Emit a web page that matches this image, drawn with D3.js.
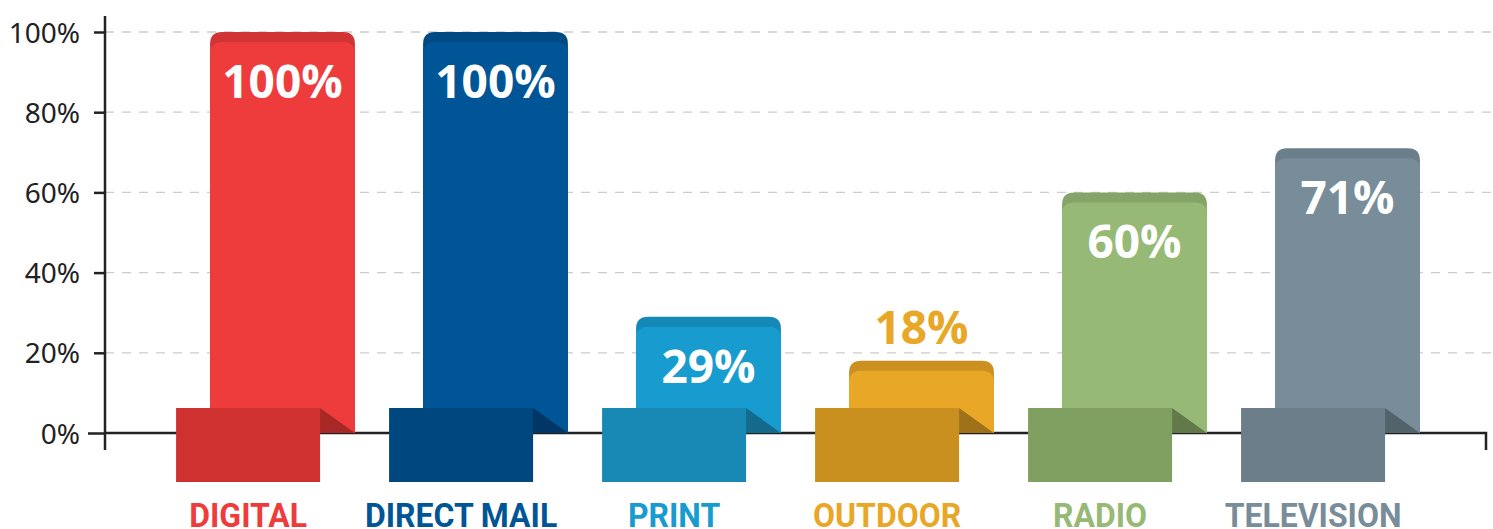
<!DOCTYPE html>
<html>
<head>
<meta charset="utf-8">
<script src="https://cdn.jsdelivr.net/npm/d3@7"></script>
<style>
  body { margin: 0; background: #fff; }
  svg { display: block; }
</style>
</head>
<body>
<div id="container"></div>
<script>
let w = 1493;
let h = 529;

// DATA
let categories = ["DIGITAL", "DIRECT MAIL", "PRINT", "OUTDOOR", "RADIO", "TELEVISION"];
let values = [100, 100, 29, 18, 60, 71];
let yTicks = [0, 20, 40, 60, 80, 100];

// colours per bar: body, top cap, folded base, fold shadow
let bodyColors = ["#ee3b3b", "#005596", "#189cd0", "#e8a726", "#96ba75", "#788d99"];
let capColors  = ["#d03434", "#004a84", "#1589b6", "#cb901f", "#84a567", "#6b7f8a"];
let baseColors = ["#cf3131", "#00467f", "#1889b5", "#c9901f", "#7fa061", "#6c7e89"];
let foldColors = ["#a82828", "#003766", "#136a8c", "#9f7219", "#62794a", "#52636c"];

let viz = d3.select("#container").append("svg")
    .attr("width", w)
    .attr("height", h);

// SCALES
let yScale = d3.scaleLinear().domain([0, 100]).range([433, 32]);
let xScale = d3.scaleBand().domain(categories).range([176, 1454])
    .paddingInner(0.32).paddingOuter(0.16);
let bw = xScale.bandwidth();
let y0 = yScale(0);

// gridlines (dashed)
viz.selectAll(".grid").data(yTicks.filter(d => d > 0)).enter()
  .append("line")
    .attr("class", "grid")
    .attr("x1", 105).attr("x2", w)
    .attr("y1", d => yScale(d)).attr("y2", d => yScale(d))
    .attr("stroke", "#cccccc")
    .attr("stroke-width", 1.3)
    .attr("stroke-dasharray", "9,8");

// y axis
let yAxis = d3.axisLeft(yScale).tickValues(yTicks).tickSize(11).tickPadding(14)
    .tickFormat(d => d + "%");
let yg = viz.append("g").attr("transform", "translate(105,0)").call(yAxis);
yg.select(".domain").remove();
yg.selectAll(".tick line").attr("stroke", "#222").attr("stroke-width", 2.5);
yg.selectAll(".tick text")
    .attr("fill", "#222")
    .attr("dy", "0.36em")
    .style("font-family", "'Noto Sans', sans-serif")
    .style("font-weight", "400")
    .style("font-size", "28px");
yg.selectAll(".tick").filter(d => d == 0).select("line").attr("x2", -17);

viz.append("line")
    .attr("x1", 105).attr("x2", 105).attr("y1", 16).attr("y2", 450)
    .attr("stroke", "#222").attr("stroke-width", 2.5);

// x axis baseline with small end tick
viz.append("path")
    .attr("d", "M105," + y0 + "H1486V450")
    .attr("fill", "none")
    .attr("stroke", "#222").attr("stroke-width", 2.5);

// rounded top bar path
function topRounded(x, y, width, height, r) {
  return "M" + x + "," + (y + height) +
    "V" + (y + r) +
    "Q" + x + "," + y + " " + (x + r) + "," + y +
    "H" + (x + width - r) +
    "Q" + (x + width) + "," + y + " " + (x + width) + "," + (y + r) +
    "V" + (y + height) + "Z";
}

let bars = viz.selectAll(".bar").data(values).enter()
  .append("g").attr("class", "bar");

// dark cap
bars.append("path")
    .attr("d", (d, i) => topRounded(xScale(categories[i]), yScale(d), bw, y0 - yScale(d), 12))
    .attr("fill", (d, i) => capColors[i]);
// lighter body
bars.append("path")
    .attr("d", (d, i) => topRounded(xScale(categories[i]), yScale(d) + 10, bw, y0 - yScale(d) - 10, 12))
    .attr("fill", (d, i) => bodyColors[i]);

// fold shadow triangle
bars.append("path")
    .attr("d", (d, i) => {
      let bx = xScale(categories[i]);
      return "M" + (bx + 110) + "," + (y0 - 25) + "L" + (bx + bw) + "," + y0 + "L" + (bx + 110) + "," + y0 + "Z";
    })
    .attr("fill", (d, i) => foldColors[i]);

// folded base rectangle
bars.append("rect")
    .attr("x", (d, i) => xScale(categories[i]) - 34)
    .attr("y", y0 - 25)
    .attr("width", 144)
    .attr("height", 74)
    .attr("fill", (d, i) => baseColors[i]);

// value labels
bars.append("text")
    .attr("x", (d, i) => xScale(categories[i]) + bw / 2)
    .attr("y", d => (y0 - yScale(d) > 90) ? yScale(d) + 66 : yScale(d) - 17)
    .attr("text-anchor", "middle")
    .attr("fill", (d, i) => (y0 - yScale(d) > 90) ? "#ffffff" : bodyColors[i])
    .style("font-family", "'Open Sans', sans-serif")
    .style("font-weight", "700")
    .style("font-size", "46px")
    .text(d => d + "%");

// category labels
bars.append("text")
    .attr("transform", (d, i) => "translate(" + (xScale(categories[i]) - 34 + 72) + ",527) scale(0.94,1)")
    .attr("text-anchor", "middle")
    .attr("fill", (d, i) => bodyColors[i])
    .style("font-family", "Roboto, sans-serif")
    .style("font-weight", "700")
    .style("font-size", "34px")
    .text((d, i) => categories[i]);
</script>
</body>
</html>
